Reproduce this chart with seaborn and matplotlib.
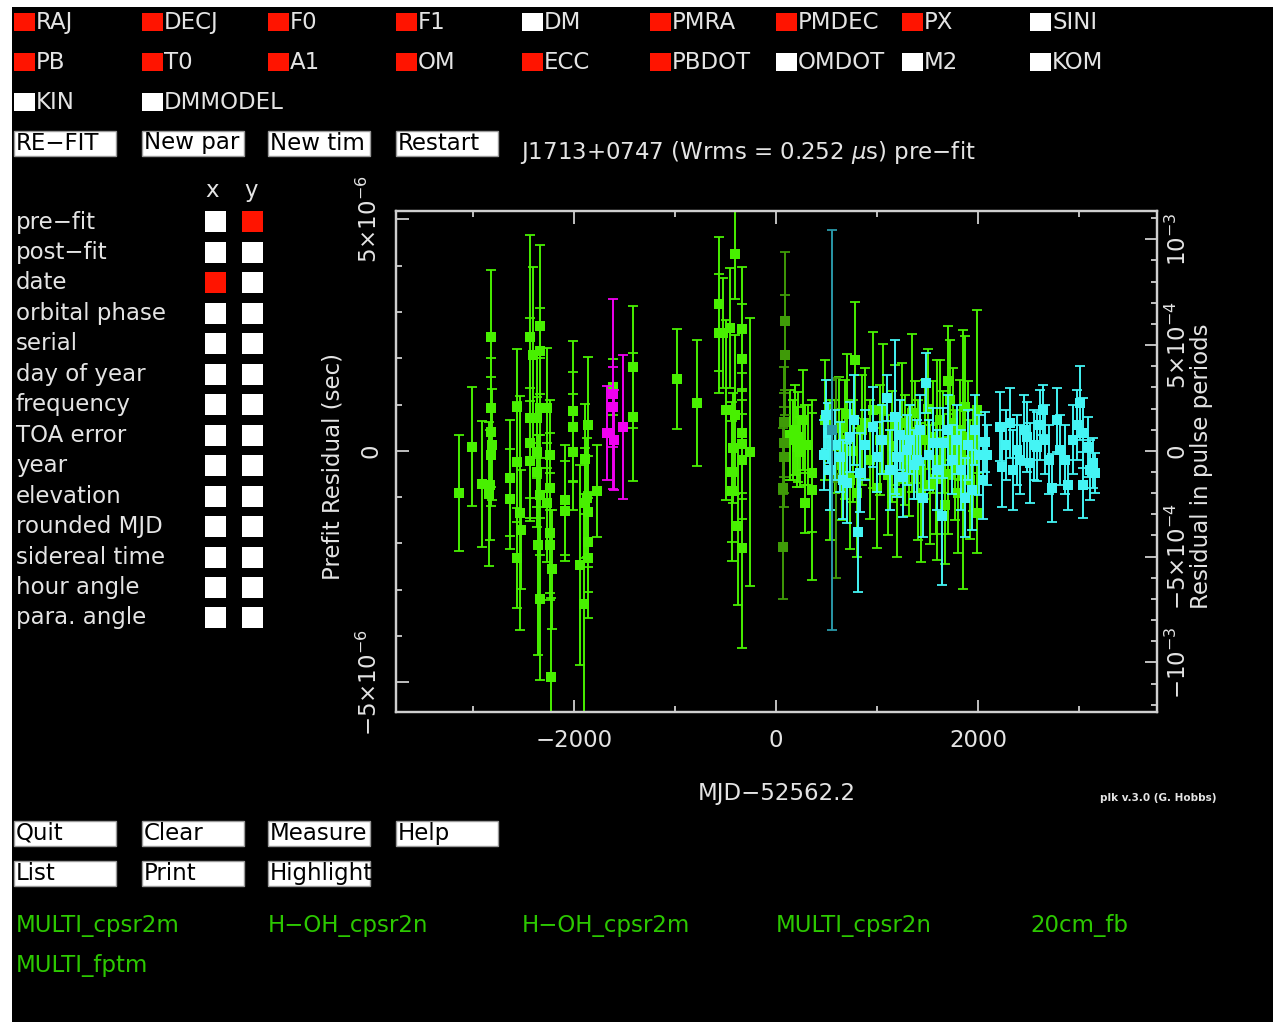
import numpy as np
import pandas as pd
import seaborn as sns
import matplotlib
matplotlib.use("Agg")
import matplotlib.pyplot as plt
from matplotlib.patches import Rectangle
from matplotlib.ticker import FixedLocator, MultipleLocator

# ---------------- data (MJD-52562.2 [d], prefit residual [us], error [us]) ----------------
green_mjd = [-3138, -3010, -2911, -2841, -2822, -2822, -2822, -2812, -2822, -2831, -2633, -2633, -2564, -2564,
             -2534, -2524, -2564, -2435, -2406, -2336, -2336, -2435, -2366, -2336, -2435, -2366, -2435, -2366,
             -2336, -2356, -2336, -2267, -2237, -2237, -2267, -2237, -2237, -2218, -2228, -2089, -2089, -2010,
             -2010, -2010, -1891, -1871, -1891, -1861, -1861, -1861, -1940, -1901, -1772, -1861, -1614, -1416,
             -1416, -980, -782, -564, -564, -525, -406, -337, -337, -495, -406, -337, -337, -337, -426, -436,
             -436, -376, -337, -257, -455]
green_res = [-0.91, 0.09, -0.71, -0.93, 2.46, 0.93, 0.41, 0.13, -0.09, -0.73, -0.58, -1.03, 0.95, -0.24,
             -1.34, -1.70, -2.31, 2.46, 2.07, 2.69, 2.16, 0.71, 0.71, 0.93, 0.17, -0.02, -0.22, -0.45,
             -0.95, -2.03, -3.19, 0.93, -0.09, -0.80, -1.12, -1.77, -2.03, -2.56, -4.89, -1.06, -1.29, 0.86,
             0.52, -0.02, -0.17, -1.01, -1.12, -1.31, -1.96, -2.31, -2.46, -3.30, -0.86, 0.56, 1.38, 1.81,
             0.73, 1.55, 1.03, 3.17, 2.54, 2.54, 4.25, 2.63, 1.98, 0.88, 0.78, 0.39, 0.15, -0.19, 0.06, -0.45,
             -0.86, -1.62, -2.09, -0.02, 2.65]
green_err = [1.25, 1.29, 1.36, 1.55, 1.44, 1.08, 1.19, 1.2, 1.1, 1.19, 1.25, 1.08, 1.25, 1.29,
             2.52, 1.29, 1.08, 2.2, 1.9, 1.75, 0.93, 2.16, 1.29, 1.08, 1.19, 1.19, 1.29, 1.19,
             1.29, 2.37, 1.75, 1.29, 1.19, 1.19, 1.29, 1.29, 1.19, 1.29, 1.72, 1.19, 1.08, 1.51,
             1.19, 1.25, 1.19, 1.29, 1.19, 1.19, 1.08, 1.29, 2.16, 2.37, 0.99, 1.47, 0.6, 1.31,
             1.38, 1.08, 1.36, 1.44, 1.29, 1.19, 0.97, 1.34, 1.19, 1.94, 1.72, 1.29, 1.19, 1.29, 1.19, 1.51,
             1.51, 1.70, 2.16, 2.89, 1.29]

late_mjd = [139, 168, 188, 208, 218, 238, 267, 287, 287, 317, 356, 356, 485, 535, 580, 620, 650, 683, 700, 733,
            760, 782, 800, 851, 880, 931, 960, 1000, 1030, 1060, 1109, 1150, 1178, 1200, 1250, 1277, 1320, 1346,
            1380, 1406, 1440, 1475, 1500, 1525, 1550, 1580, 1594, 1624, 1650, 1673, 1700, 1700, 1723, 1750,
            1772, 1800, 1822, 1851, 1871, 1900, 1921, 1950, 1990, 1990]
late_res = [0.34, 0.24, 0.45, 0.09, 0.30, -0.02, 0.67, 0.13, -1.12, 0.13, -0.47, -0.84, 0.67, -0.41, 0.10, 0.50,
            -0.30, 0.24, 0.80, -0.62, 0.00, 1.96, -0.90, 0.45, 0.60, -0.19, 0.88, -0.80, 0.24, 0.90, -0.52, 0.10,
            0.56, -0.90, 0.60, 0.02, -0.20, 0.82, 0.40, -0.41, -0.90, 0.24, 0.90, -0.73, 0.30, -0.60, -0.19, 0.67,
            0.20, -1.16, -0.50, 1.50, 1.10, 0.60, -0.30, -0.90, 0.45, -0.19, 0.95, 0.30, -0.62, -0.20, 0.88, -1.34]
late_err = [0.97, 0.86, 0.97, 0.86, 0.97, 0.75, 1.08, 0.86, 0.65, 0.86, 1.29, 1.94, 1.29, 1.51, 1.00, 1.10,
            1.20, 1.29, 1.30, 1.51, 1.10, 1.25, 1.40, 1.19, 1.20, 1.29, 1.68, 1.30, 1.19, 1.40, 1.29, 1.20,
            1.29, 1.40, 1.30, 1.19, 1.20, 1.70, 1.10, 1.51, 1.50, 1.29, 1.30, 1.29, 1.20, 1.20, 2.16, 1.29,
            1.10, 1.29, 1.30, 1.20, 1.29, 1.20, 1.19, 1.30, 1.08, 2.80, 1.53, 1.20, 1.29, 1.10, 2.16, 0.86]

dark_mjd = [89, 89, 79, 79, 79, 69, 69, 594, 554]
dark_res = [2.80, 2.07, 0.63, 0.17, -0.13, -0.80, -2.07, -0.58, 0.13]
dark_err = [1.49, 1.29, 1.19, 1.08, 1.08, 1.29, 1.14, 2.16, 1.40]

mag_mjd = [-1673, -1614, -1614, -1604, -1515]
mag_res = [0.39, 1.23, 0.95, 0.24, 0.52]
mag_err = [1.01, 2.05, 0.86, 1.08, 1.55]

cyan_mjd = [475, 495, 515, 535, 584, 634, 663, 703, 733, 772, 812, 832, 881, 1099, 960, 1000, 1050, 1129, 1178,
            1198, 1228, 1257, 1297, 1327, 1366, 1396, 1426, 1455, 1485, 1515, 1554, 1594, 1643, 1653, 1703,
            1742, 1792, 1832, 1871, 1901, 1941, 1970, 2010, 2050, 2069, 2089, 2218, 2237, 2277, 2317, 2346,
            2386, 2416, 2455, 2485, 2515, 2554, 2584, 2614, 2643, 2663, 2703, 2732, 2782, 2812, 2861, 2891,
            2940, 2980, 3010, 3039, 3039, 3089, 3109, 3138, 3158]
cyan_res = [-0.09, 0.78, 0.39, -0.41, 0.13, -0.13, -0.62, -0.69, 0.30, 0.67, -1.75, -0.47, 0.13, 1.14, 0.52,
            -0.13, 0.24, -0.41, 0.73, -0.13, 0.34, -0.56, 0.02, 0.24, -0.30, -0.19, 0.45, -1.01, 1.47, -0.09,
            0.17, -0.41, -1.40, 0.17, 0.45, -0.19, 0.24, -0.41, -1.01, 0.13, -0.84, 0.45, -0.09, -0.62, 0.19,
            -0.09, 0.52, -0.34, 0.13, 0.60, -0.41, 0.02, -0.19, 0.45, 0.30, -0.26, 0.13, 0.09, 0.56, 0.88, 0.24,
            -0.19, -0.80, 0.67, 0.02, -0.19, -0.73, 0.24, 0.56, 1.03, 0.39, -0.73, 0.09, -0.41, -0.26, -0.47]
cyan_err = [0.75, 0.75, 0.65, 0.86, 0.75, 0.75, 0.86, 0.86, 0.75, 0.97, 1.29, 0.86, 0.75, 0.5, 0.86, 0.75,
            0.75, 0.86, 1.66, 0.86, 0.75, 0.86, 0.75, 0.75, 0.75, 0.86, 0.75, 0.86, 0.65, 0.75, 0.75, 0.86,
            1.49, 0.75, 0.75, 0.75, 0.75, 0.86, 0.86, 0.75, 0.86, 0.75, 0.86, 0.86, 0.65, 0.65, 0.75, 0.88,
            0.75, 0.75, 0.86, 0.75, 0.75, 0.75, 0.75, 0.86, 0.75, 0.75, 0.75, 0.54, 0.75, 0.75, 0.73, 0.69,
            0.75, 0.75, 0.54, 0.75, 0.75, 0.80, 0.75, 0.71, 0.65, 0.65, 0.54, 0.43]

teal_mjd = [554]
teal_res = [0.45]
teal_err = [4.31]

period_us = 4570.136  # pulse period in microseconds

x_ticks = [-2000, 0, 2000]
x_ticklabels = ["\u22122000", "0", "2000"]
y_ticks = [-5, 0, 5]
y_ticklabels = ["\u22125\u00d710$^{-6}$", "0", "5\u00d710$^{-6}$"]
p_ticks = [-1e-3, -5e-4, 0, 5e-4, 1e-3]
p_ticklabels = ["\u221210$^{-3}$", "\u22125\u00d710$^{-4}$", "0", "5\u00d710$^{-4}$", "10$^{-3}$"]

params_row1 = [("RAJ", 1), ("DECJ", 1), ("F0", 1), ("F1", 1), ("DM", 0), ("PMRA", 1), ("PMDEC", 1), ("PX", 1), ("SINI", 0)]
params_row2 = [("PB", 1), ("T0", 1), ("A1", 1), ("OM", 1), ("ECC", 1), ("PBDOT", 1), ("OMDOT", 0), ("M2", 0), ("KOM", 0)]
params_row3 = [("KIN", 0), ("DMMODEL", 0)]
plot_opts = ["pre\u2212fit", "post\u2212fit", "date", "orbital phase", "serial", "day of year", "frequency",
             "TOA error", "year", "elevation", "rounded MJD", "sidereal time", "hour angle", "para. angle"]
opt_x_sel = "date"
opt_y_sel = "pre\u2212fit"
buttons_top = ["RE\u2212FIT", "New par", "New tim", "Restart"]
buttons_b1 = ["Quit", "Clear", "Measure", "Help"]
buttons_b2 = ["List", "Print", "Highlight"]
flags = ["MULTI_cpsr2m", "H\u2212OH_cpsr2n", "H\u2212OH_cpsr2m", "MULTI_cpsr2n", "20cm_fb", "MULTI_fptm"]

# ---------------- build table ----------------
frames = []
for name, m, r, e in [("green", green_mjd, green_res, green_err),
                      ("late", late_mjd, late_res, late_err),
                      ("dark", dark_mjd, dark_res, dark_err),
                      ("magenta", mag_mjd, mag_res, mag_err),
                      ("cyan", cyan_mjd, cyan_res, cyan_err),
                      ("teal", teal_mjd, teal_res, teal_err)]:
    frames.append(pd.DataFrame({"mjd": m, "res": r, "err": e, "grp": name}))
df = pd.concat(frames, ignore_index=True)
palette = {"green": "#48f000", "late": "#48f000", "dark": "#3f9a08", "magenta": "#f000f0",
           "cyan": "#44f4f4", "teal": "#2a98a8"}
order = ["green", "late", "dark", "magenta", "cyan", "teal"]

# ---------------- figure ----------------
sns.set_theme(style="dark")
plt.rcParams["font.family"] = ["DejaVu Sans"]
plt.rcParams["mathtext.fontset"] = "dejavusans"
W, H = 1273, 1022
TXT = "#e4e4e4"
FS = 16.5
fig = plt.figure(figsize=(W / 100, H / 100), dpi=100, facecolor="white")


def fx(px):
    return px / W


def fy(py):
    return 1 - py / H


def box(x0, y0, w, h, color, z=1, ec="none"):
    fig.add_artist(Rectangle((fx(x0), fy(y0 + h)), w / W, h / H, transform=fig.transFigure,
                             facecolor=color, edgecolor=ec, lw=1, zorder=z))


box(12, 7, W - 12, H - 7, "black", z=-10)

ax = fig.add_axes([fx(396), fy(712), 761 / W, 501 / H])
ax.set_facecolor("black")

for i, g in enumerate(order):
    sub = df[df["grp"] == g]
    ax.errorbar(sub["mjd"], sub["res"], yerr=sub["err"], fmt="none", ecolor=palette[g],
                elinewidth=1.4, capsize=3.8, capthick=1.3, zorder=2 + 2 * i)
    sns.scatterplot(data=sub, x="mjd", y="res", color=palette[g], marker="s", s=54, linewidth=0,
                    legend=False, ax=ax, zorder=3 + 2 * i)

ylim = (-5.64, 5.18)
ax.set_xlim(-3762, 3772)
ax.set_ylim(*ylim)
ax.grid(False)
SP = "#cfcfcf"
for s in ax.spines.values():
    s.set_color(SP)
    s.set_linewidth(1.6)

ax.xaxis.set_major_locator(FixedLocator(x_ticks))
ax.set_xticklabels(x_ticklabels)
ax.xaxis.set_minor_locator(FixedLocator([-3000, -1000, 1000, 3000]))
ax.yaxis.set_major_locator(FixedLocator(y_ticks))
ax.set_yticklabels(y_ticklabels, rotation=90, va="center")
ax.yaxis.set_minor_locator(MultipleLocator(1))
ax.tick_params(which="both", direction="in", colors=SP, labelcolor=TXT, labelsize=FS,
               top=True, bottom=True, left=True, right=False, width=1.3)
ax.tick_params(which="major", length=9)
ax.tick_params(which="minor", length=4.5)
ax.tick_params(axis="x", pad=12)
ax.tick_params(axis="y", pad=10)

ax.set_xlabel("MJD\u221252562.2", color=TXT, fontsize=FS)
ax.xaxis.label.set(va="center", ha="center")
ax.xaxis.set_label_coords(0.5, (712 - 793) / 501)
ax.set_ylabel("Prefit Residual (sec)", color=TXT, fontsize=FS)
ax.yaxis.label.set(rotation_mode="default", va="center", ha="center")
ax.yaxis.set_label_coords((333 - 396) / 761, 0.5 - 5 / 501)

ax2 = ax.twinx()
ax2.set_ylim(ylim[0] / period_us, ylim[1] / period_us)
ax2.yaxis.set_major_locator(FixedLocator(p_ticks))
ax2.set_yticklabels(p_ticklabels, rotation=90, va="center")
ax2.yaxis.set_minor_locator(MultipleLocator(1e-4))
ax2.grid(False)
for s in ax2.spines.values():
    s.set_color(SP)
    s.set_linewidth(1.6)
ax2.tick_params(which="both", direction="in", colors=SP, labelcolor=TXT, labelsize=FS, width=1.3,
                right=True, left=False, pad=6)
ax2.tick_params(which="major", length=9)
ax2.tick_params(which="minor", length=4.5)
ax2.set_ylabel("Residual in pulse periods", color=TXT, fontsize=FS)
ax2.yaxis.label.set(rotation_mode="default", va="center", ha="center", rotation=90)
ax2.yaxis.set_label_coords((1201 - 396) / 761, 0.5 - 5 / 501)

ax.set_title("J1713+0747 (Wrms = 0.252 $\\mu$s) pre\u2212fit", color=TXT, fontsize=FS,
             x=(520 - 396) / 761, y=(712 - 153) / 501, ha="left", va="center", pad=0)

# ---------------- GUI decorations ----------------
RED = "#ff1400"
cols = [14, 142, 268, 396, 522, 650, 776, 902, 1030]
for row, yc in [(params_row1, 22), (params_row2, 62), (params_row3, 102)]:
    for (name, on), x0 in zip(row, cols):
        box(x0, yc - 9, 21, 18, RED if on else "white")
        fig.text(fx(x0 + 22), fy(yc), name, color=TXT, fontsize=FS, ha="left", va="center")

for labels, yc in [(buttons_top, 143), (buttons_b1, 833), (buttons_b2, 873)]:
    for name, x0 in zip(labels, cols):
        box(x0, yc - 12, 102, 25, "white", ec="#9a9a9a")
        fig.text(fx(x0 + 2), fy(yc), name, color="black", fontsize=FS, ha="left", va="center", zorder=3)

fig.text(fx(212), fy(190), "x", color=TXT, fontsize=FS, ha="center", va="center")
fig.text(fx(251), fy(190), "y", color=TXT, fontsize=FS, ha="center", va="center")
for i, name in enumerate(plot_opts):
    yc = 222 + 30.46 * i
    fig.text(fx(16), fy(yc), name, color=TXT, fontsize=FS, ha="left", va="center")
    box(205, yc - 10.5, 21, 21, RED if name == opt_x_sel else "white")
    box(242, yc - 10.5, 21, 21, RED if name == opt_y_sel else "white")

fig.text(fx(1158), fy(798), "plk v.3.0 (G. Hobbs)", color=TXT, fontsize=7.5, fontweight="bold",
         ha="center", va="center")

FLAG = "#2cc800"
flag_pos = [(16, 925), (268, 925), (522, 925), (776, 925), (1030, 925), (16, 965)]
for name, (x0, yc) in zip(flags, flag_pos):
    fig.text(fx(x0), fy(yc), name, color=FLAG, fontsize=FS, ha="left", va="center")

fig.savefig("out.png", dpi=100, facecolor=fig.get_facecolor())
